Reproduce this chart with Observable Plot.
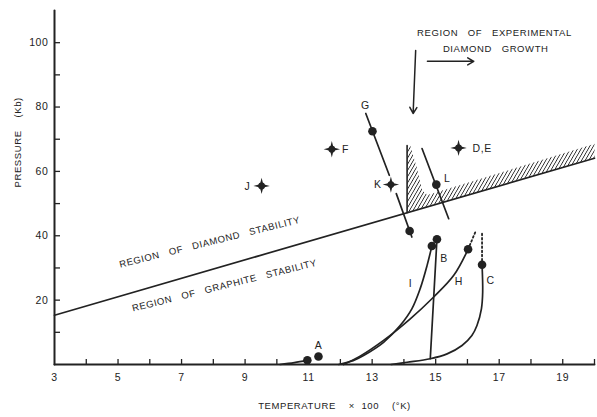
<!DOCTYPE html>
<html>
<head>
<meta charset="utf-8">
<script src="https://cdn.jsdelivr.net/npm/d3@7"></script>
<script src="https://cdn.jsdelivr.net/npm/@observablehq/plot@0.6"></script>
<style>
  body { margin: 0; background: #fff; }
  #chart svg { display: block; }
  #chart text { letter-spacing: 0.6px; }
</style>
</head>
<body>
<div id="chart"></div>
<script>
// ---------- data (temperature ×100 K, pressure kb) ----------
const xTicks = [4,5,6,7,8,9,10,11,12,13,14,15,16,17,18,19,20];
const xTickLabels = [3,5,7,9,11,13,15,17,19];
const yTicks = [10,20,30,40,50,60,70,80,90,100];
const yTickLabels = [20,40,60,80,100];
const axisLineX = [[3,0],[20,0]];
const axisLineY = [[3,0],[3,110]];

const boundary = [[3,15.3],[20,64.1]];
const hatch = [[14.1,47.2],[14.1,68],[14.2,68],[14.4,61.4],[14.58,54],[14.75,52.7],[20,68.6],[20,64.1]];
const hatchEdge = [[14.1,47.2],[14.1,68]];

const lineG1 = [[12.8,78],[13.54,58.8]];
const lineG2 = [[13.76,53.1],[14.25,39.6]];
const lineL = [[14.57,67.1],[15.41,45.3]];

const curveA = [[10.1,0],[10.55,0.6],[10.96,1.3]];
const curveI = [[11.95,0],[12.4,1.2],[12.73,2.8],[13.36,6.9],[13.88,12.1],[14.25,17.3],[14.51,23.5],[14.73,30.8],[14.88,36.8]];
const curveH = [[12.1,0],[12.62,2.6],[13.36,7.5],[14.2,14.2],[14.93,20.9],[15.57,27.7],[16.02,35.8]];
const curveB = [[14.83,1.8],[15.04,38.9]];
const curveC = [[13.6,0],[14.1,0.7],[14.83,1.8],[15.36,3.3],[15.83,5.9],[16.14,9.0],[16.3,12.1],[16.44,17.3],[16.48,22.5],[16.46,31.0]];
const dottedH = [[16.02,35.8],[16.25,41.2]];
const dottedC = [[16.46,31.0],[16.46,41.2]];

const dotT = [10.96, 11.31, 13.01, 14.18, 15.02, 14.88, 15.04, 16.02, 16.46];
const dotP = [1.3, 2.5, 72.5, 41.5, 55.9, 36.8, 38.9, 35.8, 31.0];

const starT = [9.52, 11.73, 13.59, 15.72];
const starP = [55.5, 66.9, 55.9, 67.3];

const labelText = ["A","G","K","L","F","J","I","B","H","C"];
const labelT = [11.31, 12.79, 13.18, 15.36, 12.16, 9.07, 14.21, 15.26, 15.73, 16.73];
const labelP = [5.9, 80.5, 55.9, 57.7, 66.8, 55.4, 25.1, 32.8, 25.6, 26.1];
const labelDE = ["D,E"];
const labelDET = [16.16];
const labelDEP = [67.0];

const sp = "\u00a0\u00a0\u00a0";
const regionText = ["REGION" + sp + "OF" + sp + "DIAMOND" + sp + "STABILITY", "REGION" + sp + "OF" + sp + "GRAPHITE" + sp + "STABILITY"];
const regionT = [7.89, 8.35];
const regionP = [38.0, 24.5];

const growthText = ["REGION" + sp + "OF" + sp + "EXPERIMENTAL", "DIAMOND" + sp + "GROWTH"];
const growthT = [16.85, 16.89];
const growthP = [102.9, 98.2];

const arrowX1 = [14.37, 14.74];
const arrowY1 = [97.6, 94.2];
const arrowX2 = [14.29, 16.2];
const arrowY2 = [78.0, 94.2];

const xTitle = ["TEMPERATURE\u00a0\u00a0\u00a0\u00a0×\u00a0\u00a0100\u00a0\u00a0\u00a0\u00a0(°K)"];
const yTitle = ["PRESSURE\u00a0\u00a0\u00a0\u00a0(Kb)"];

// ---------- layout ----------
const ink = "#222";
const W = 597, H = 417, mL = 54, mR = 3, mT = 10, mB = 53;
const frameW = W - mL - mR, frameH = H - mT - mB;
const font = "'Liberation Sans', Arial, sans-serif";

const star4 = {
  draw(context, size) {
    const r = Math.sqrt(size / Math.PI), w = r * 0.2;
    context.moveTo(0, -r);
    context.lineTo(w, -w);
    context.lineTo(r, 0);
    context.lineTo(w, w);
    context.lineTo(0, r);
    context.lineTo(-w, w);
    context.lineTo(-r, 0);
    context.lineTo(-w, -w);
    context.closePath();
  }
};

const lineStyle = {stroke: ink, strokeWidth: 1.7, strokeLinecap: "round"};

const chart = Plot.plot({
  width: W, height: H,
  marginLeft: mL, marginRight: mR, marginTop: mT, marginBottom: mB,
  x: {domain: [3, 20]},
  y: {domain: [0, 110]},
  style: {fontFamily: font, fontSize: "10px", color: ink, background: "#fff"},
  marks: [
    Plot.line(hatch, {fill: "url(#hatch)", stroke: "none"}),
    Plot.line(hatchEdge, {stroke: ink, strokeWidth: 1.6}),
    Plot.line(axisLineX, {stroke: ink, strokeWidth: 2}),
    Plot.line(axisLineY, {stroke: ink, strokeWidth: 2}),
    Plot.tickX(xTicks, {x: d => d, insetTop: frameH - 5, stroke: ink, strokeWidth: 1.3}),
    Plot.tickY(yTicks, {y: d => d, insetRight: frameW - 6, stroke: ink, strokeWidth: 1.3}),
    Plot.axisX({ticks: xTickLabels, tickSize: 0, tickPadding: 9, label: null, fontSize: 10.5}),
    Plot.axisY({ticks: yTickLabels, tickSize: 0, tickPadding: 6, label: null, fontSize: 10.5}),
    Plot.line(boundary, lineStyle),
    Plot.line(lineG1, lineStyle),
    Plot.line(lineG2, lineStyle),
    Plot.line(lineL, lineStyle),
    Plot.line(curveA, {...lineStyle, curve: "catmull-rom"}),
    Plot.line(curveI, {...lineStyle, curve: "catmull-rom"}),
    Plot.line(curveH, {...lineStyle, curve: "catmull-rom"}),
    Plot.line(curveB, lineStyle),
    Plot.line(curveC, {...lineStyle, curve: "catmull-rom"}),
    Plot.line(dottedH, {stroke: ink, strokeWidth: 1.8, strokeDasharray: "1.6,2.6"}),
    Plot.line(dottedC, {stroke: ink, strokeWidth: 1.8, strokeDasharray: "1.6,2.6"}),
    Plot.dot(dotT, {x: dotT, y: dotP, r: 4.3, fill: ink, stroke: "none"}),
    Plot.dot(starT, {x: starT, y: starP, r: 8.2, symbol: star4, fill: ink, stroke: "none"}),
    Plot.dot(starT, {x: starT, y: starP, r: 3.4, fill: ink, stroke: "none"}),
    Plot.text(labelText, {x: labelT, y: labelP, text: labelText, fontSize: 10.5, fill: ink}),
    Plot.text(labelDE, {x: labelDET, y: labelDEP, text: labelDE, fontSize: 10.5, fill: ink, textAnchor: "start"}),
    Plot.text(regionText, {x: regionT, y: regionP, text: regionText, fontSize: 9.5, rotate: -14, fill: ink}),
    Plot.text(growthText, {x: growthT, y: growthP, text: growthText, fontSize: 9.5, fill: ink}),
    Plot.arrow(arrowX1, {x1: arrowX1, y1: arrowY1, x2: arrowX2, y2: arrowY2, stroke: ink, strokeWidth: 1.5, headLength: 7}),
    Plot.text(xTitle, {frameAnchor: "bottom", dy: 44, dx: 10, text: d => d, fontSize: 9.5, fill: ink}),
    Plot.text(yTitle, {frameAnchor: "left", dx: -37, rotate: -90, text: d => d, fontSize: 9.5, fill: ink})
  ]
});

// hatch pattern for the region of experimental diamond growth
const defs = document.createElementNS("http://www.w3.org/2000/svg", "defs");
defs.innerHTML = '<pattern id="hatch" width="3.1" height="3.1" patternUnits="userSpaceOnUse" patternTransform="rotate(30)">' +
  '<line x1="0" y1="0" x2="0" y2="3.1" stroke="#222" stroke-width="1.6"/></pattern>';
chart.insertBefore(defs, chart.firstChild);

document.getElementById("chart").appendChild(chart);
</script>
</body>
</html>
